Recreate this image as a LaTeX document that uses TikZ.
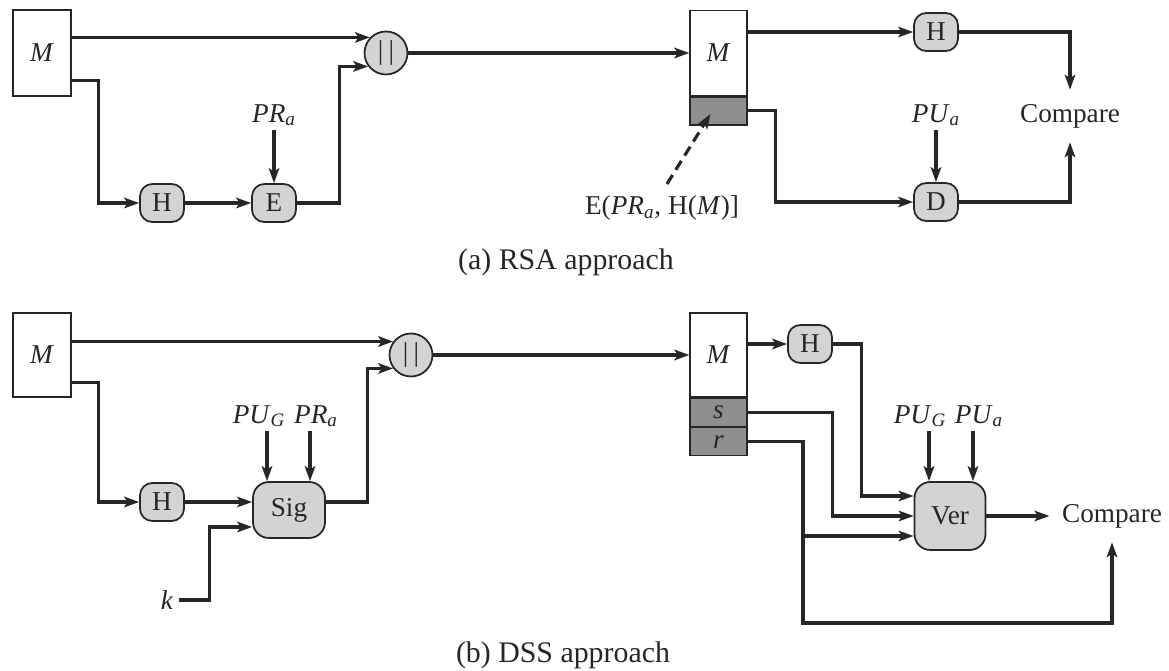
\documentclass[tikz,border=0pt]{standalone}
\usepackage{fontspec}
\setmainfont{Liberation Serif}
\usetikzlibrary{arrows.meta,calc,positioning}
\definecolor{linegray}{HTML}{262626}
\definecolor{boxgray}{HTML}{D2D3D3}
\definecolor{siggray}{HTML}{8F8F8F}
\newcommand{\ksub}[2]{\textit{#1}\textsubscript{\textit{#2}}}

\begin{document}
\begin{tikzpicture}[x=0.02cm, y=-0.02cm, color=linegray,
        font=\fontsize{15.5}{18}\selectfont,
        arr/.style={-{Stealth[length=8.5pt,width=6pt,inset=2pt]}, line width=1.8pt},
        fnbox/.style={draw, fill=boxgray, rounded corners=7pt, minimum width=0.88cm, minimum height=0.76cm, inner sep=0pt, line width=1pt},
        catnode/.style={draw, circle, fill=boxgray, minimum size=0.86cm, inner sep=0pt, line width=1pt},
        msgbox/.style={draw, fill=white, minimum width=1.14cm, inner sep=0pt, line width=0.8pt},
        sigpart/.style={msgbox, fill=siggray, minimum height=0.56cm},
        keylbl/.style={inner sep=2pt, anchor=south},
        cmp/.style={inner xsep=7pt, inner ysep=8pt},
        caption/.style={font=\fontsize{17}{20}\selectfont}]

    \useasboundingbox (0,0) rectangle (1169,671);

    % (a) RSA approach
    \node[msgbox, minimum width=1.16cm, minimum height=1.72cm] (ma) at (42,53) {\textit{M}};
    \node[catnode] (cata) at (386,53) {|\hspace{3pt}|};
    \node[fnbox] (ha) at (162,203) {H};
    \node[fnbox] (ea) at (274,203) {E};
    \node[keylbl] (pra) at (274,130) {\ksub{PR}{a}};
    \node[msgbox, minimum height=1.7cm] (mra) at (718.5,53) {\textit{M}};
    \node[sigpart, anchor=north] (sga) at (mra.south) {};
    \node[fnbox] (hra) at (936,32) {H};
    \node[fnbox] (da) at (936,202) {D};
    \node[keylbl] (pua) at (936,130) {\ksub{PU}{a}};
    \node[cmp] (cmpa) at (1070,116) {Compare};
    \node (siglbl) at (662,208) {E(\ksub{PR}{a}, H(\textit{M})]};
    \coordinate (dtail) at (667,184);
    \node[caption] (capa) at (566,262) {(a) RSA approach};

    \draw[arr] (ma.east |- cata.136) -- (cata.136);
    \draw[arr] ($(ma.south east)+(0,-16)$) -- ++(27,0) |- (ha.west);
    \draw[arr] (ha) -- (ea);
    \draw[arr] (pra) -- (ea);
    \draw[arr] (ea.east) -- ++(43,0) |- (cata.217);
    \draw[arr] (cata) -- (mra);
    \draw[arr] (mra.east |- hra.west) -- (hra.west);
    \draw[arr] (sga.east) -- ++(28,0) |- (da.west);
    \draw[arr] (pua) -- (da);
    \draw[arr] (hra.east) -| (cmpa.north);
    \draw[arr] (da.east) -| (cmpa.south);
    \draw[arr, dash pattern=on 6pt off 3.5pt] (dtail) -- ($(sga.center)+(-8,3)$);

    % (b) DSS approach
    \node[msgbox, minimum width=1.16cm, minimum height=1.68cm] (mb) at (42,355) {\textit{M}};
    \node[catnode] (catb) at (411,355) {|\hspace{3pt}|};
    \node[fnbox] (hb) at (162,502) {H};
    \node[fnbox, minimum width=1.44cm, minimum height=1.12cm, rounded corners=9pt] (sig) at (289,510) {Sig};
    \node[keylbl] (pugb) at (259,431) {\ksub{PU}{G}};
    \node[keylbl] (prb) at (316,431) {\ksub{PR}{a}};
    \node (kb) at (167,600) {\textit{k}};
    \node[msgbox, minimum height=1.68cm] (mrb) at (718.5,355) {\textit{M}};
    \node[sigpart, anchor=north] (sb) at (mrb.south) {\textit{s}};
    \node[sigpart, anchor=north] (rb) at (sb.south) {\textit{r}};
    \node[fnbox] (hrb) at (810,344) {H};
    \node[fnbox, minimum width=1.42cm, minimum height=1.36cm, rounded corners=9pt] (ver) at (950,516) {Ver};
    \node[keylbl] (pugv) at (920,431) {\ksub{PU}{G}};
    \node[keylbl] (puv) at (979,431) {\ksub{PU}{a}};
    \node[cmp] (cmpb) at (1112,516) {Compare};
    \coordinate (rlow) at (803,623);
    \node[caption] (capb) at (563,655) {(b) DSS approach};

    \draw[arr] (mb.east |- catb.143) -- (catb.143);
    \draw[arr] ($(mb.south east)+(0,-15)$) -- ++(27,0) |- (hb.west);
    \draw[arr] (hb.east) -- (sig.west |- hb.east);
    \draw[arr] (kb.east) -- ++(30,0) |- ($(sig.west)+(0,17)$);
    \draw[arr] ([xshift=0.16cm]pugb.south) -- ([xshift=0.16cm]pugb.south |- sig.north);
    \draw[arr] ([xshift=-0.12cm]prb.south) -- ([xshift=-0.12cm]prb.south |- sig.north);
    \draw[arr] ($(sig.east)+(0,-8)$) -- ++(42,0) |- (catb.217);
    \draw[arr] (catb) -- (mrb);
    \draw[arr] (mrb.east |- hrb.west) -- (hrb.west);
    \draw[arr] (hrb.east) -- ++(29,0) |- ($(ver.west)+(0,-20)$);
    \draw[arr] (sb.east) -- ++(85,0) |- (ver.west);
    \draw[arr] (rb.east) -- (rlow |- rb.east) |- ($(ver.west)+(0,20)$);
    \draw[arr] (rlow |- rb.east) -- (rlow) -| (cmpb.south);
    \draw[arr] ([xshift=0.18cm]pugv.south) -- ([xshift=0.18cm]pugv.south |- ver.north);
    \draw[arr] ([xshift=-0.12cm]puv.south) -- ([xshift=-0.12cm]puv.south |- ver.north);
    \draw[arr] (ver.east) -- (cmpb.west);
\end{tikzpicture}
\end{document}
